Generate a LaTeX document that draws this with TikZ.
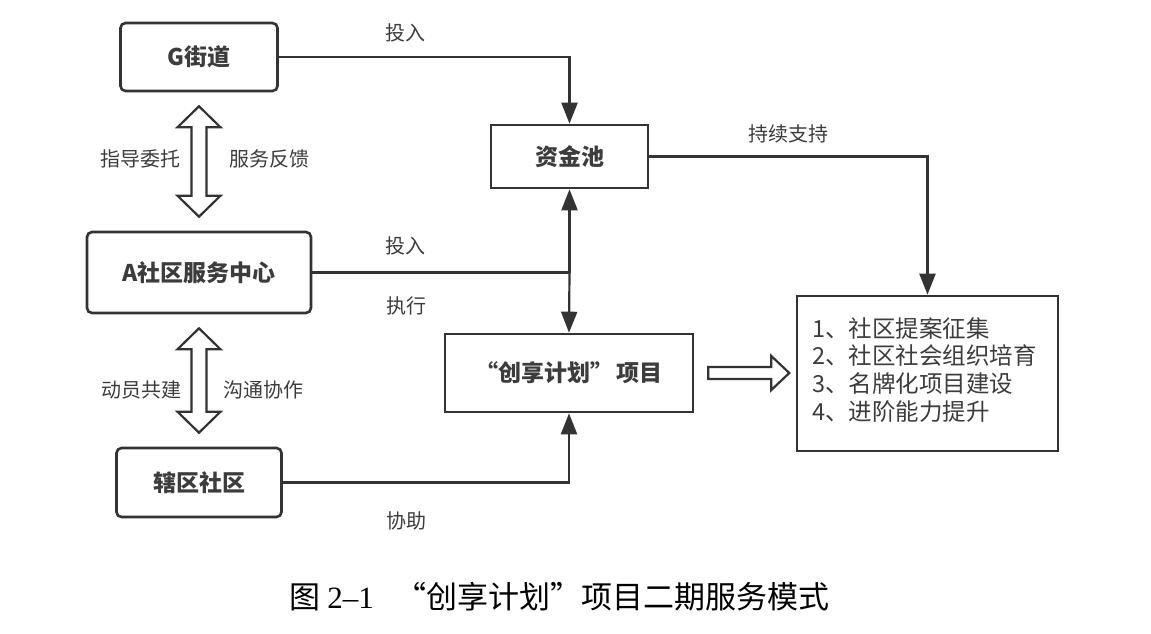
\documentclass[tikz,border=0pt]{standalone}
\usepackage{fontspec}
\setmainfont{Noto Sans CJK SC}
\newfontfamily\numfont{Liberation Serif}
\usetikzlibrary{arrows.meta,calc}
\definecolor{ink}{HTML}{333333}
\definecolor{txt}{HTML}{3C3C3C}
\def\boxfont{\fontsize{23}{27}\selectfont\bfseries}
\def\labfont{\fontsize{20}{24}\selectfont}
\def\listfont{\fontsize{23.5}{27.7}\selectfont}
% open double arrow between two nodes, one above the other
\def\dblarrow#1#2{\draw[openarrow] ($(#1.south)+(0,14)$) -- ++(21.5,21) -- ++(-14,0) -- ($(#2.north)+(7.5,-35)$) -- ++(14,0) -- ($(#2.north)+(0,-14)$) -- ++(-21.5,-21) -- ++(14,0) -- ($(#1.south)+(-7.5,35)$) -- ++(-14,0) -- cycle;}

\begin{document}
\begin{tikzpicture}[x=1pt,y=-1pt,
    rbox/.style={draw=ink,line width=2.6pt,rounded corners=5pt,text=txt,font=\boxfont},
    sbox/.style={draw=ink,line width=2.6pt,text=txt,font=\boxfont},
    lab/.style={text=txt,font=\labfont},
    arr/.style={draw=ink,line width=2.2pt,-{Triangle[width=16pt,length=21pt]}},
    openarrow/.style={draw=ink,line width=2.2pt,line join=miter}]
    \useasboundingbox (0,0) rectangle (1151,634);

    \node[rbox,minimum width=157pt,minimum height=68pt] (g) at (199,57) {G街道};
    \node[sbox,minimum width=157pt,minimum height=63pt] (pool) at (569.5,156.5) {资金池};
    \node[rbox,minimum width=224pt,minimum height=81pt] (a) at (199,272.5) {A社区服务中心};
    \node[sbox,minimum width=248pt,minimum height=78pt] (proj) at (569,373) {“创享计划”\,项目};
    \node[rbox,minimum width=165pt,minimum height=69pt] (c) at (199,482.5) {辖区社区};
    \node[sbox,minimum width=261pt,minimum height=155pt] (res) at (927.5,373.5) {};
    \node[text=txt,font=\listfont,align=left,anchor=north west,inner sep=0pt] (list) at (812,317)
        {1、社区提案征集\\2、社区社会组织培育\\3、名牌化项目建设\\4、进阶能力提升};

    \draw[arr] (g.east) -| (pool.north);
    \draw[arr] (pool.east) -| (res.north);
    \draw[ink,line width=2.2pt] (a.east) -- (a.east -| pool.south) coordinate (j);
    \draw[arr] (j) -- (pool.south);
    \draw[arr] (j) -- (proj.north);
    \draw[arr] (c.east) -| (proj.south);

    \node[lab] (l1) at (405,33) {投入};
    \node[lab] (l2) at (788,134) {持续支持};
    \node[lab] (l3) at (405,246) {投入};
    \node[lab] (l4) at (406,306) {执行};
    \node[lab] (l5) at (406,521) {协助};
    \node[lab] (l6) at (140,159) {指导委托};
    \node[lab] (l7) at (269,159) {服务反馈};
    \node[lab] (l8) at (141,390) {动员共建};
    \node[lab] (l9) at (263,390) {沟通协作};

    \dblarrow{g}{a}
    \dblarrow{a}{c}
    \draw[openarrow] ($(proj.east)+(14,-6)$) -- ++(63,0) -- ++(0,-11) -- ++(18,17) -- ++(-18,17) -- ++(0,-11) -- ++(-63,0) -- cycle;

    \node[font=\fontsize{31}{36}\selectfont] (cap) at (559.5,597) {图 {\numfont 2–1}\hspace{0.7em}“创享计划”项目二期服务模式};
\end{tikzpicture}
\end{document}
